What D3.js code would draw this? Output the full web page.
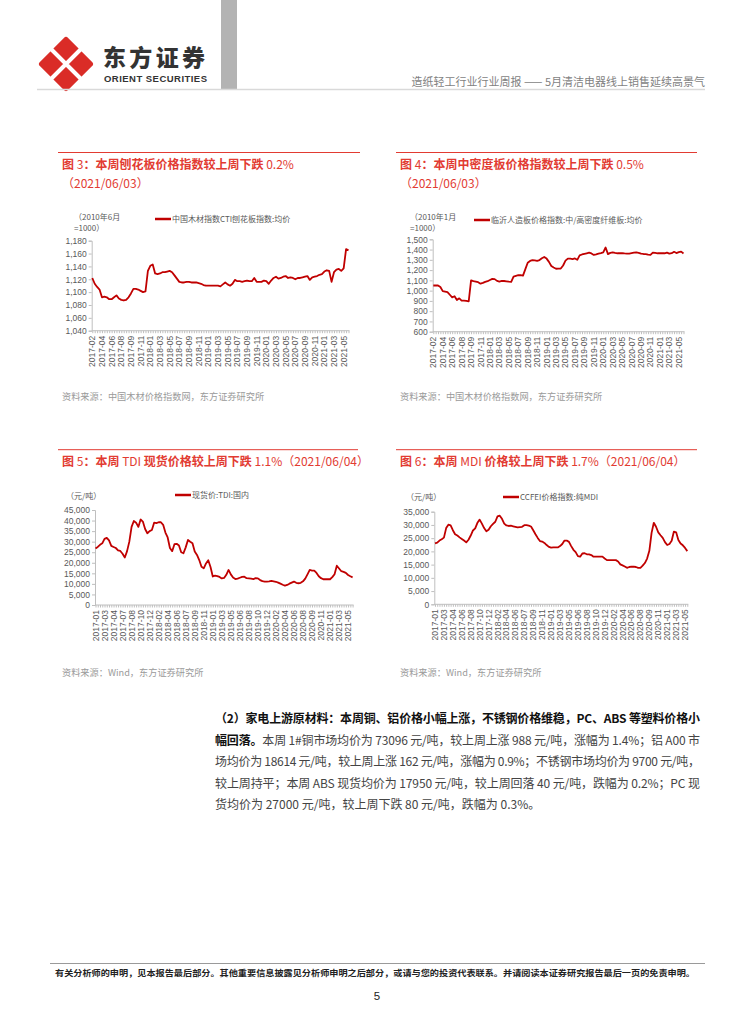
<!DOCTYPE html>
<html>
<head>
<meta charset="utf-8">
<script src="https://cdn.jsdelivr.net/npm/d3@7/dist/d3.min.js"></script>
<style>
  body { margin: 0; background: #fff; }
  svg { display: block; font-family: "Noto Sans CJK SC", "Noto Sans", sans-serif; }
</style>
</head>
<body>
<div id="page"></div>
<script>
// ---- data: 4 samples per labelled interval ----
const mdfLabels = ['2017-02','2017-04','2017-06','2017-08','2017-09','2017-11','2018-01','2018-03','2018-05','2018-07','2018-09','2018-11','2019-01','2019-03','2019-05','2019-07','2019-09','2019-11','2020-01','2020-03','2020-05','2020-07','2020-09','2020-11','2021-01','2021-03','2021-05']
const boardLabels = mdfLabels
const tdiLabels = ['2017-01','2017-03','2017-04','2017-07','2017-08','2017-10','2017-12','2018-02','2018-04','2018-06','2018-07','2018-09','2018-11','2019-01','2019-03','2019-05','2019-06','2019-08','2019-10','2019-12','2020-02','2020-04','2020-06','2020-08','2020-09','2020-11','2021-01','2021-03','2021-05']
const mdiLabels = ['2017-01','2017-03','2017-04','2017-06','2017-08','2017-10','2017-12','2018-02','2018-04','2018-06','2018-07','2018-09','2018-11','2019-01','2019-03','2019-05','2019-06','2019-08','2019-10','2019-12','2020-02','2020-04','2020-06','2020-08','2020-09','2020-11','2021-01','2021-03','2021-05']

const boardValues = [1122,1113,1108,1104,1092,1093,1092,1089,1089,1092,1095,1090,1088,1087,1088,1092,1098,1105,1105,1104,1102,1100,1101,1133,1141,1143,1129,1128,1129,1131,1131,1132,1133,1131,1126,1121,1116,1115,1115,1116,1116,1115,1115,1115,1114,1113,1111,1110,1110,1110,1110,1110,1110,1109,1112,1115,1112,1110,1113,1119,1117,1117,1116,1117,1118,1117,1117,1122,1116,1116,1116,1118,1117,1113,1118,1122,1124,1121,1122,1124,1125,1122,1123,1122,1120,1122,1122,1123,1124,1125,1119,1123,1124,1125,1127,1128,1132,1134,1133,1116,1131,1135,1136,1133,1137,1167,1165]

const mdfValues = [1050,1050,1050,1035,995,990,985,960,935,945,908,925,903,903,900,895,1100,1092,1087,1082,1068,1075,1085,1092,1104,1115,1112,1095,1088,1094,1094,1091,1087,1085,1136,1144,1150,1150,1146,1210,1272,1289,1297,1294,1290,1298,1315,1328,1312,1280,1240,1225,1213,1214,1215,1245,1292,1312,1312,1307,1314,1300,1343,1352,1358,1364,1370,1362,1348,1353,1360,1366,1373,1420,1356,1368,1373,1368,1364,1364,1365,1362,1360,1360,1365,1370,1373,1368,1360,1357,1355,1350,1348,1370,1368,1364,1365,1364,1364,1370,1360,1365,1378,1366,1375,1380,1362]

const tdiValues = [26800,27500,28500,29200,31300,31800,30600,28000,27500,27000,25900,25600,24300,22500,25500,30000,37000,39800,39000,37000,40500,39500,36000,34000,35000,35500,39000,38800,39200,39200,38000,34300,32000,27000,25500,28800,29000,28200,25000,24500,27300,30800,30000,29300,25300,23700,21300,18100,17400,19700,21200,18000,13500,13900,13700,13300,12600,12800,14300,16600,14500,13000,12300,12500,12900,13300,13400,12700,12600,12500,12300,12700,12600,11800,11300,11100,11100,11200,11400,11200,11000,10600,10100,9600,9200,9500,10100,10600,11100,10500,10300,10500,11200,12500,14500,16600,16300,16300,15200,13600,12700,12200,12200,12200,12200,13200,14600,18600,17300,16000,15700,15200,14200,13600,13100]

const mdiValues = [23000,23300,24100,24600,25200,28800,30100,29800,28000,26500,26000,25300,24700,24100,23400,24400,26000,27900,28700,30800,32000,30500,28800,27600,28200,29500,30400,31200,33200,33500,32300,30500,29800,29600,29700,29500,29300,29100,29200,29300,29900,29900,29700,29400,28000,26500,25100,23900,23700,23200,22400,21700,21400,21500,21500,21500,22000,22800,24100,24100,23600,22000,20600,19700,18200,18000,19200,19300,18900,18900,18600,18000,18000,18000,18000,18000,17300,16700,16700,16700,16700,16700,16200,15100,14700,14300,13800,14100,14200,14200,14100,13800,13800,14600,15600,17300,20200,27000,30800,29300,27200,26100,25100,23500,22400,22800,24000,27500,27200,24300,23000,22300,21300,20100]

const boardTicks = [1040,1060,1080,1100,1120,1140,1160,1180]
const mdfTicks = [600,700,800,900,1000,1100,1200,1300,1400,1500]
const tdiTicks = [0,5000,10000,15000,20000,25000,30000,35000,40000,45000]
const mdiTicks = [0,5000,10000,15000,20000,25000,30000,35000]
const PER_LABEL = 4

const RED = '#E23B32'
const LINE = '#C00000'
const GRAY = '#595959'

const W = 754, H = 1024
const svg = d3.select('#page').append('svg')
  .attr('width', W)
  .attr('height', H)

// ---- header ----
const logo = svg.append('g').attr('transform', 'translate(66,64)')
logo.append('path')
  .attr('d', 'M0,-24 L24,0 L0,24 L-24,0 Z')
  .attr('fill', '#DA2C27')
  .attr('stroke', '#DA2C27')
  .attr('stroke-width', 6)
  .attr('stroke-linejoin', 'round')
logo.append('path')
  .attr('d', 'M-16,-16 L16,16 M16,-16 L-16,16')
  .attr('stroke', '#fff')
  .attr('stroke-width', 4)
svg.append('text')
  .attr('x', 103).attr('y', 66)
  .attr('font-size', 23).attr('font-weight', 900)
  .attr('fill', '#333')
  .attr('textLength', 102)
  .text('东方证券')
svg.append('text')
  .attr('x', 104).attr('y', 82)
  .attr('font-family', 'Liberation Sans, Arial, sans-serif')
  .attr('font-size', 9.5).attr('font-weight', 'bold')
  .attr('fill', '#333')
  .attr('textLength', 103)
  .text('ORIENT SECURITIES')
svg.append('rect')
  .attr('x', 221).attr('y', 0).attr('width', 16).attr('height', 89)
  .attr('fill', '#b3b3b3')
svg.append('line')
  .attr('x1', 37).attr('x2', 705).attr('y1', 89.5).attr('y2', 89.5)
  .attr('stroke', '#d9d9d9').attr('stroke-width', 1.5)
svg.append('text')
  .attr('x', 705).attr('y', 86)
  .attr('text-anchor', 'end')
  .attr('font-size', 11).attr('fill', '#7f7f7f')
  .text('造纸轻工行业行业周报 —— 5月清洁电器线上销售延续高景气')

// ---- chart panels ----
function panelTitle (x, y, x2, parts, dateLine) {
  svg.append('line')
    .attr('x1', x - 4).attr('x2', x2).attr('y1', y).attr('y2', y)
    .attr('stroke', RED).attr('stroke-width', 1)
  const t = svg.append('text')
    .attr('x', x).attr('y', y + 16)
    .attr('font-size', 12).attr('fill', RED)
  parts.forEach(p => {
    t.append('tspan').attr('font-weight', p[1] ? 'bold' : 'normal').text(p[0])
  })
  if (dateLine) {
    svg.append('text')
      .attr('x', x).attr('y', y + 35)
      .attr('font-size', 12).attr('fill', RED)
      .text(dateLine)
  }
}

function drawChart (c) {
  const x = d3.scaleLinear()
    .domain([0, c.values.length - 1])
    .range([c.x0, c.x1])
  const y = d3.scaleLinear()
    .domain(d3.extent(c.ticks))
    .range([c.yBottom, c.yTop])

  const g = svg.append('g')

  // y axis
  const ya = g.append('g')
    .attr('transform', `translate(${c.axisX},0)`)
    .call(d3.axisLeft(y).tickValues(c.ticks).tickSize(3).tickFormat(d3.format(',')))
  ya.select('.domain').attr('stroke', '#bfbfbf')
  ya.selectAll('.tick line').attr('stroke', '#bfbfbf')
  ya.selectAll('.tick text')
    .attr('fill', GRAY).attr('font-size', 8.5)
    .attr('font-family', 'Liberation Sans, Arial, sans-serif')
    .attr('x', -5)

  // x axis: a tick for every sample, labels every PER_LABEL samples
  const xa = g.append('g')
    .attr('transform', `translate(0,${c.yBottom})`)
    .call(d3.axisBottom(x).tickValues(d3.range(c.values.length)).tickSize(2.5).tickFormat(''))
  xa.select('.domain')
    .attr('d', `M${c.axisX},0H${c.x1 + 1}`)
    .attr('stroke', '#bfbfbf')
  xa.selectAll('.tick line').attr('stroke', '#bfbfbf')

  g.append('g')
    .selectAll('text')
    .data(c.labels)
    .enter().append('text')
    .attr('transform', (d, i) => `translate(${x(i * PER_LABEL) + 3},${c.yBottom + 5}) rotate(-90)`)
    .attr('text-anchor', 'end')
    .attr('font-size', 8.5)
    .attr('font-family', 'Liberation Sans, Arial, sans-serif')
    .attr('fill', GRAY)
    .text(d => d)

  // line
  g.append('path')
    .datum(c.values)
    .attr('fill', 'none')
    .attr('stroke', LINE)
    .attr('stroke-width', 1.8)
    .attr('stroke-linejoin', 'round')
    .attr('d', d3.line().x((d, i) => x(i)).y(d => y(d)))

  // unit + legend
  c.unit.forEach((u, i) => {
    g.append('text')
      .attr('x', c.unitX).attr('y', c.unitY + i * 11)
      .attr('font-size', 8).attr('fill', GRAY)
      .text(u)
  })
  g.append('line')
    .attr('x1', c.legendX).attr('x2', c.legendX + 16)
    .attr('y1', c.legendY).attr('y2', c.legendY)
    .attr('stroke', LINE).attr('stroke-width', 2.5)
  g.append('text')
    .attr('x', c.legendX + 17).attr('y', c.legendY + 3)
    .attr('font-size', 8).attr('fill', GRAY)
    .text(c.legend)
}

function source (x, y, s) {
  svg.append('text')
    .attr('x', x).attr('y', y)
    .attr('font-size', 9.2).attr('fill', '#9a9a9a')
    .text(s)
}

panelTitle(62, 152.5, 360, [['图 ', 1], ['3', 0], ['：本周刨花板价格指数较上周下跌 ', 1], ['0.2%', 0]], '（2021/06/03）')
drawChart({
  values: boardValues, labels: boardLabels, ticks: boardTicks,
  x0: 92.3, x1: 348.5, axisX: 91.7, yTop: 240.7, yBottom: 330.7,
  unit: ['（2010年6月', '=1000）'], unitX: 74, unitY: 220,
  legend: '中国木材指数CTI刨花板指数:均价', legendX: 155, legendY: 219
})
source(62, 400, '资料来源：中国木材价格指数网，东方证券研究所')

panelTitle(400, 152.5, 697, [['图 ', 1], ['4', 0], ['：本周中密度板价格指数较上周下跌 ', 1], ['0.5%', 0]], '（2021/06/03）')
drawChart({
  values: mdfValues, labels: mdfLabels, ticks: mdfTicks,
  x0: 433.3, x1: 683.5, axisX: 432.7, yTop: 239.3, yBottom: 331.7,
  unit: ['（2010年1月', '=1000）'], unitX: 410, unitY: 220,
  legend: '临沂人造板价格指数:中/高密度纤维板:均价', legendX: 474, legendY: 220
})
source(400, 400, '资料来源：中国木材价格指数网，东方证券研究所')

panelTitle(62, 449.7, 358, [['图 ', 1], ['5', 0], ['：本周 ', 1], ['TDI', 0], [' 现货价格较上周下跌 ', 1], ['1.1%（2021/06/04）', 0]], null)
drawChart({
  values: tdiValues, labels: tdiLabels, ticks: tdiTicks,
  x0: 95.5, x1: 352.6, axisX: 95, yTop: 510, yBottom: 605,
  unit: ['（元/吨）'], unitX: 66, unitY: 499,
  legend: '现货价:TDI:国内', legendX: 175, legendY: 495
})
source(62, 676, '资料来源：Wind，东方证券研究所')

panelTitle(400, 449.7, 697, [['图 ', 1], ['6', 0], ['：本周 ', 1], ['MDI', 0], [' 价格较上周下跌 ', 1], ['1.7%（2021/06/04）', 0]], null)
drawChart({
  values: mdiValues, labels: mdiLabels, ticks: mdiTicks,
  x0: 435, x1: 687.3, axisX: 434.3, yTop: 511.7, yBottom: 604.3,
  unit: ['（元/吨）'], unitX: 406, unitY: 500,
  legend: 'CCFEI价格指数:纯MDI', legendX: 503, legendY: 497
})
source(400, 676, '资料来源：Wind，东方证券研究所')

// ---- body text ----
const bodyLines = [
  [['（2）家电上游原材料：本周铜、铝价格小幅上涨，不锈钢价格维稳，PC、ABS 等塑料价格小', 1]],
  [['幅回落。', 1], ['本周 1#铜市场均价为 73096 元/吨，较上周上涨 988 元/吨，涨幅为 1.4%；铝 A00 市', 0]],
  [['场均价为 18614 元/吨，较上周上涨 162 元/吨，涨幅为 0.9%；不锈钢市场均价为 9700 元/吨，', 0]],
  [['较上周持平；本周 ABS 现货均价为 17950 元/吨，较上周回落 40 元/吨，跌幅为 0.2%；PC 现', 0]],
  [['货均价为 27000 元/吨，较上周下跌 80 元/吨，跌幅为 0.3%。', 0]]
]
bodyLines.forEach((line, i) => {
  const t = svg.append('text')
    .attr('x', 215).attr('y', 723 + i * 21.6)
    .attr('font-size', 12).attr('fill', '#333')
  if (i < bodyLines.length - 1) t.attr('textLength', 485).attr('lengthAdjust', 'spacing')
  line.forEach(p => {
    t.append('tspan')
      .attr('font-weight', p[1] ? 'bold' : 'normal')
      .attr('fill', p[1] ? '#111' : '#444')
      .text(p[0])
  })
})

// ---- footer ----
svg.append('line')
  .attr('x1', 50).attr('x2', 705).attr('y1', 963.5).attr('y2', 963.5)
  .attr('stroke', '#9a9a9a').attr('stroke-width', 1.2)
svg.append('text')
  .attr('x', 55).attr('y', 976)
  .attr('font-size', 8.3).attr('font-weight', 'bold').attr('fill', '#222')
  .attr('textLength', 640).attr('lengthAdjust', 'spacingAndGlyphs')
  .text('有关分析师的申明，见本报告最后部分。其他重要信息披露见分析师申明之后部分，或请与您的投资代表联系。并请阅读本证券研究报告最后一页的免责申明。')
svg.append('text')
  .attr('x', 377).attr('y', 1000)
  .attr('text-anchor', 'middle')
  .attr('font-family', 'Liberation Sans, Arial, sans-serif')
  .attr('font-size', 11.5).attr('fill', '#222')
  .text('5')
</script>
</body>
</html>
